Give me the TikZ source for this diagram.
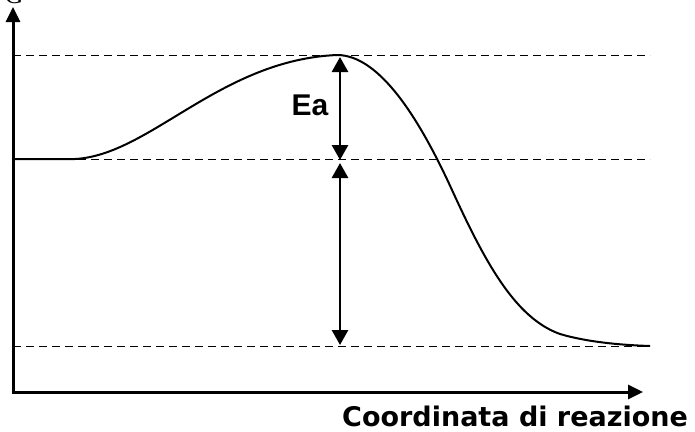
\documentclass[tikz,border=0pt]{standalone}
\usepackage{fontspec}
\setmainfont{Liberation Serif}
\newfontfamily\labfont{Liberation Sans}
\newfontfamily\axfont{DejaVu Sans}
\usetikzlibrary{arrows.meta}
\tikzset{
  axisline/.style={line width=3pt, -{Triangle[length=15pt,width=14pt]}},
  levelline/.style={line width=1.9pt, dash pattern=on 8pt off 5pt},
  dimarrow/.style={line width=2.8pt, {Triangle[length=15pt,width=16pt]}-{Triangle[length=15pt,width=16pt]}},
  curveline/.style={line width=2pt, line join=round}
}
\begin{document}
\begin{tikzpicture}[x=1pt,y=-1pt]
\useasboundingbox (0,0) rectangle (695,431);
% axes
\coordinate (ytip) at (13,7);
\coordinate (xtip) at (643,392);
\draw[axisline] (13,393.5) -- (ytip);
\draw[axisline] (11.5,392) -- (xtip);
% levels
\coordinate (topL) at (13,55.5);
\coordinate (topR) at (650,55.5);
\coordinate (midL) at (13,159.5);
\coordinate (midR) at (650,159.5);
\coordinate (lowL) at (13,346.5);
\coordinate (lowR) at (650,346.5);
\draw[levelline] (topL) -- (topR);
\draw[levelline] (midL) -- (midR);
\draw[levelline] (lowL) -- (lowR);
% curve
\coordinate (cStart) at (13,159);
\coordinate (cRise) at (75,159);
\coordinate (cPeak) at (337,55);
\coordinate (cMid) at (452,190);
\coordinate (cKnee) at (560,334);
\coordinate (cEnd) at (650,346);
\draw[curveline] (cStart) -- (cRise)
  .. controls (150,155) and (220,60) .. (cPeak)
  .. controls (380,55) and (420,120) .. (cMid)
  .. controls (485,262) and (515,318) .. (cKnee)
  .. controls (587,342) and (620,345) .. (cEnd);
% dimension arrows
\coordinate (eaTop) at (340,57);
\coordinate (eaBot) at (340,160);
\coordinate (dgTop) at (340,163);
\coordinate (dgBot) at (340,345);
\draw[dimarrow] (eaTop) -- (eaBot);
\draw[dimarrow] (dgTop) -- (dgBot);
% labels
\node[anchor=base, font=\labfont\bfseries\fontsize{30}{30}\selectfont, inner sep=0pt] (ea) at (310,115) {Ea};
\node[anchor=base west, font=\axfont\bfseries\fontsize{27}{27}\selectfont, inner sep=0pt] (xlabel) at (342,426) {Coordinata di reazione};
\node[anchor=base, font=\fontsize{26}{26}\selectfont, inner sep=0pt] (ylabel) at (14,3) {G};
\end{tikzpicture}
\end{document}
